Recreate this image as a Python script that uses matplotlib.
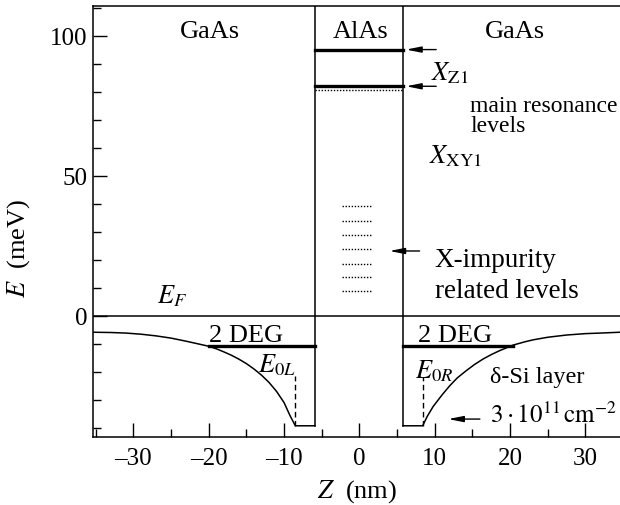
import numpy as np
import matplotlib
matplotlib.use('Agg')
from matplotlib import pyplot as plt
from matplotlib.ticker import MultipleLocator

plt.rcParams['font.family'] = ['Liberation Serif', 'DejaVu Serif']
plt.rcParams['mathtext.fontset'] = 'stix'

# conduction band profile (z in nm, E in meV)
z_left = [-35.4, -33.0, -31.0, -29.0, -27.0, -25.0, -23.0, -21.0, -20.0, -19.0, -18.0,
          -17.0, -16.0, -15.0, -14.0, -13.0, -12.0, -11.0, -10.0, -9.2, -8.5, -5.9]
e_left = [-5.9, -6.0, -6.2, -6.6, -7.2, -8.0, -9.1, -10.3, -10.9, -11.8, -12.9,
          -14.1, -15.5, -17.1, -19.0, -21.2, -23.8, -27.0, -31.0, -35.7, -39.3, -39.3]
z_right = [5.8, 8.4, 9.0, 9.8, 11.0, 12.0, 13.0, 14.2, 15.3, 16.4, 17.5, 18.6, 20.4,
           22.0, 23.1, 25.0, 27.5, 30.0, 32.0, 34.6]
e_right = [-39.3, -39.3, -36.0, -32.4, -28.2, -25.0, -22.2, -19.6, -17.4, -15.5, -13.9,
           -12.5, -10.5, -9.3, -8.6, -7.7, -6.9, -6.4, -6.2, -5.9]

barrier = [-5.9, 5.8]
well_bottom = -39.3
fermi = 0
deg_level = -10.9
deg_left = [-20.0, -5.9]
deg_right = [5.8, 20.4]
e0_left = (-8.6, -21.4)
e0_right = (8.5, -21.9)

main_levels = [95, 82]          # X_Z1, X_XY1
xy1_dotted = 80.7
impurity_levels = [39.1, 33.7, 28.9, 23.7, 18.6, 13.9, 8.7]
impurity_span = [-2.25, 1.5]

fig = plt.figure(figsize=(6.2, 5.06), dpi=100)
ax = fig.add_axes([0.1495, 0.1344, 0.8505, 0.852])
ax.set_xlim(-35.4, 34.6)
ax.set_ylim(-43.3, 110.6)

lw = 1.1
ax.plot(z_left, e_left, color='black', lw=lw)
ax.plot(z_right, e_right, color='black', lw=lw)
# barrier walls
ax.plot([barrier[0], barrier[0]], [well_bottom, 120], color='black', lw=lw)
ax.plot([barrier[1], barrier[1]], [well_bottom, 120], color='black', lw=lw)
ax.axhline(fermi, color='black', lw=lw)

# 2DEG levels
ax.plot(deg_left, [deg_level, deg_level], color='black', lw=2.4)
ax.plot(deg_right, [deg_level, deg_level], color='black', lw=2.4)
ax.plot([e0_left[0]] * 2, [well_bottom, e0_left[1]], color='black', lw=1.0, ls=(0, (4, 2.5)))
ax.plot([e0_right[0]] * 2, [well_bottom, e0_right[1]], color='black', lw=1.0, ls=(0, (4, 2.5)))

# resonance levels in AlAs
for lev in main_levels:
    ax.plot(barrier, [lev, lev], color='black', lw=2.4)
ax.plot(barrier, [xy1_dotted, xy1_dotted], color='black', lw=1.0, ls=(0, (1, 1.2)))
for lev in impurity_levels:
    ax.plot(impurity_span, [lev, lev], color='black', lw=1.0, ls=(0, (1, 1.2)))

arrow = dict(arrowstyle='-|>,head_length=0.9,head_width=0.18', color='black', lw=1.0,
             shrinkA=0, shrinkB=0)
ax.annotate('', xy=(6.2, 95), xytext=(10.2, 95), arrowprops=arrow)
ax.annotate('', xy=(6.2, 81.9), xytext=(10.2, 81.9), arrowprops=arrow)
ax.annotate('', xy=(4.0, 23.1), xytext=(8.0, 23.1), arrowprops=arrow)
ax.annotate('', xy=(11.8, -36.9), xytext=(16.0, -36.9), arrowprops=arrow)

fs = 19
ax.text(-19.9, 101.7, 'GaAs', ha='center', va='center', fontsize=fs)
ax.text(0.2, 101.7, 'AlAs', ha='center', va='center', fontsize=fs)
ax.text(20.6, 101.7, 'GaAs', ha='center', va='center', fontsize=fs)
ax.text(9.5, 84.5, r'$X_{\mathrm{Z1}}$', fontsize=fs, va='baseline')
ax.text(14.7, 73.2, 'main resonance', fontsize=17, va='baseline')
ax.text(14.7, 66.0, 'levels', fontsize=17, va='baseline')
ax.text(9.2, 54.9, r'$X_{\mathrm{XY1}}$', fontsize=fs, va='baseline')
ax.text(10.0, 17.9, 'X-impurity', fontsize=19.5, va='baseline')
ax.text(10.0, 6.7, 'related levels', fontsize=19.5, va='baseline')
ax.text(-26.9, 4.9, r'$E_F$', fontsize=fs, va='baseline')
ax.text(-15.0, -8.9, '2 DEG', ha='center', fontsize=fs, va='baseline')
ax.text(12.7, -8.9, '2 DEG', ha='center', fontsize=fs, va='baseline')
ax.text(-13.5, -20.0, r'$E_{0L}$', fontsize=fs, va='baseline')
ax.text(7.35, -22.0, r'$E_{0R}$', fontsize=fs, va='baseline')
ax.text(17.3, -23.7, 'δ-Si layer', fontsize=17.5, va='baseline')
ax.text(17.3, -38.0, r'$3\cdot10^{11}\,\mathrm{cm}^{-2}$', fontsize=18, va='baseline')

ax.spines['right'].set_visible(False)
for s in ax.spines.values():
    s.set_linewidth(1.1)

ax.xaxis.set_major_locator(MultipleLocator(10))
ax.xaxis.set_minor_locator(MultipleLocator(5))
ax.yaxis.set_major_locator(MultipleLocator(50))
ax.yaxis.set_minor_locator(MultipleLocator(10))
ax.tick_params(which='both', direction='in', top=False, right=False, width=1.0, labelsize=18)
ax.tick_params(which='major', length=10)
ax.tick_params(which='minor', length=6)
ax.tick_params(axis='x', which='major', pad=7)
ax.tick_params(axis='y', which='major', pad=4)
ax.set_xticks([-30, -20, -10, 0, 10, 20, 30])
ax.set_xticklabels(['\u201330', '\u201320', '\u201310', '0', '10', '20', '30'])
ax.set_yticks([0, 50, 100])
ax.set_yticklabels(['0', '50', '100'])

ax.set_xlabel(r'$Z$  (nm)', fontsize=19)
ax.set_ylabel(r'$E$  (meV)', fontsize=19)
ax.xaxis.set_label_coords(0.501, -0.093)
ax.yaxis.set_label_coords(-0.115, 0.44)

fig.savefig('out.png', dpi=100)
